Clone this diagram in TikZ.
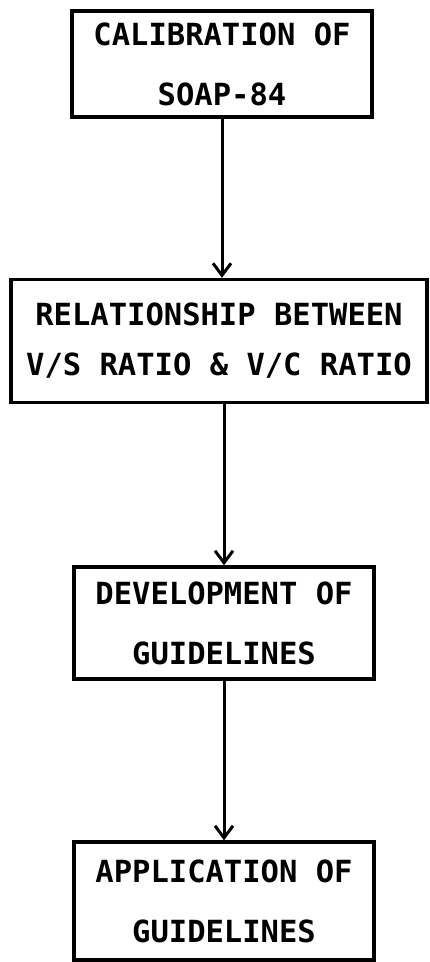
\documentclass[tikz,border=0pt]{standalone}
\usepackage{fontspec}
\setmonofont{DejaVu Sans Mono}
\usetikzlibrary{arrows.meta}
\tikzstyle{stepbox} = [draw, rectangle, line width=3.5pt, align=center, inner sep=0pt, font=\fontsize{30.5}{60}\selectfont\ttfamily\bfseries]
\tikzstyle{flow} = [line width=3pt, -{Straight Barb[length=12pt,width=18pt,line width=3pt]}]

\begin{document}
\begin{tikzpicture}[x=1pt,y=-1pt]
    \useasboundingbox (0,0) rectangle (430,962);
    \node[stepbox, minimum width=300pt, minimum height=106pt] (calib) at (222,64)
{CALIBRATION OF\\SOAP-84};
    \node[stepbox, minimum width=416pt, minimum height=123pt,
font=\fontsize{30.5}{50}\selectfont\ttfamily\bfseries] (relation) at (219,341)
{RELATIONSHIP BETWEEN\\V/S RATIO \& V/C RATIO};
    \node[stepbox, minimum width=300pt, minimum height=112pt] (develop) at (224,623)
{DEVELOPMENT OF\\GUIDELINES};
    \node[stepbox, minimum width=300pt, minimum height=118pt] (apply) at (224,901)
{APPLICATION OF\\GUIDELINES};
    \draw[flow] (calib.south) -- (calib.south |- relation.north);
    \draw[flow] (develop.north |- relation.south) -- (develop.north);
    \draw[flow] (develop.south) -- (apply.north);
\end{tikzpicture}
\end{document}
